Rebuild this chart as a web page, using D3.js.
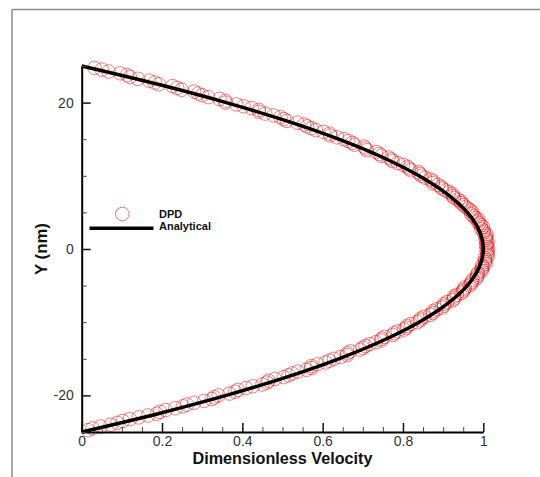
<!DOCTYPE html>
<html>
<head>
<meta charset="utf-8">
<script src="https://cdn.jsdelivr.net/npm/d3@7/dist/d3.min.js"></script>
<style>
  html, body { margin: 0; padding: 0; background: #fff; }
  svg { display: block; font-family: "Liberation Sans", Arial, sans-serif; }
</style>
</head>
<body>
<svg id="chart" width="540" height="477"></svg>
<script>
// ---- data ----
const dpdY = [24.75,24.25,23.75,23.25,22.75,22.25,21.75,21.25,20.75,20.25,19.75,19.25,18.75,18.25,17.75,17.25,16.75,16.25,15.75,15.25,14.75,14.25,13.75,13.25,12.75,12.25,11.75,11.25,10.75,10.25,9.75,9.25,8.75,8.25,7.75,7.25,6.75,6.25,5.75,5.25,4.75,4.25,3.75,3.25,2.75,2.25,1.75,1.25,0.75,0.25,
  -0.25,-0.75,-1.25,-1.75,-2.25,-2.75,-3.25,-3.75,-4.25,-4.75,-5.25,-5.75,-6.25,-6.75,-7.25,-7.75,-8.25,-8.75,-9.25,-9.75,-10.25,-10.75,-11.25,-11.75,-12.25,-12.75,-13.25,-13.75,-14.25,-14.75,-15.25,-15.75,-16.25,-16.75,-17.25,-17.75,-18.25,-18.75,-19.25,-19.75,-20.25,-20.75,-21.25,-21.75,-22.25,-22.75,-23.25,-23.75,-24.25,-24.75,
  24.5,24,23.5,23,22.5,22,21.5,21,20.5,20,19.5,19,18.5,18,17.5,17,16.5,16,15.5,15,14.5,14,13.5,13,12.5,12,11.5,11,10.5,10,9.5,9,8.5,8,7.5,7,6.5,6,5.5,5,4.5,4,3.5,3,2.5,2,1.5,1,0.5,0,
  -0.5,-1,-1.5,-2,-2.5,-3,-3.5,-4,-4.5,-5,-5.5,-6,-6.5,-7,-7.5,-8,-8.5,-9,-9.5,-10,-10.5,-11,-11.5,-12,-12.5,-13,-13.5,-14,-14.5,-15,-15.5,-16,-16.5,-17,-17.5,-18,-18.5,-19,-19.5,-20,-20.5,-21,-21.5,-22,-22.5,-23,-23.5,-24,-24.5];
const dpdU = [0.032,0.067,0.113,0.140,0.182,0.226,0.249,0.290,0.315,0.358,0.385,0.423,0.441,0.478,0.503,0.537,0.561,0.583,0.618,0.636,0.664,0.679,0.707,0.733,0.746,0.771,0.787,0.811,0.820,0.842,0.855,0.875,0.887,0.897,0.915,0.924,0.937,0.945,0.956,0.968,0.970,0.981,0.986,0.994,0.995,1.001,1.007,1.006,1.009,1.009,
  1.008,1.010,1.004,1.004,0.997,0.996,0.987,0.985,0.973,0.970,0.954,0.950,0.934,0.928,0.910,0.902,0.883,0.875,0.853,0.843,0.820,0.809,0.787,0.775,0.747,0.732,0.707,0.693,0.661,0.645,0.617,0.587,0.572,0.538,0.515,0.481,0.462,0.426,0.389,0.368,0.330,0.305,0.262,0.233,0.195,0.165,0.120,0.089,0.047,0.016,
  0.050,0.096,0.120,0.168,0.192,0.238,0.280,0.300,0.343,0.358,0.403,0.441,0.457,0.495,0.511,0.554,0.572,0.602,0.619,0.654,0.674,0.703,0.710,0.741,0.764,0.774,0.800,0.815,0.839,0.846,0.869,0.874,0.895,0.906,0.923,0.927,0.944,0.951,0.963,0.973,0.976,0.988,0.990,0.999,1.001,1.008,1.006,1.011,1.007,1.012,
  1.010,1.011,1.005,1.006,0.998,0.996,0.985,0.983,0.971,0.966,0.952,0.946,0.927,0.924,0.902,0.897,0.874,0.868,0.844,0.836,0.810,0.803,0.778,0.754,0.746,0.717,0.700,0.669,0.661,0.628,0.607,0.572,0.560,0.524,0.503,0.465,0.450,0.409,0.382,0.341,0.324,0.280,0.252,0.209,0.187,0.142,0.102,0.072,0.027];
const anaY = [25,22.5,20,17.5,15,12.5,10,7.5,5,2.5,0,-2.5,-5,-7.5,-10,-12.5,-15,-17.5,-20,-22.5,-25];
const anaU = [0,0.19,0.36,0.51,0.64,0.75,0.84,0.91,0.96,0.99,1,0.99,0.96,0.91,0.84,0.75,0.64,0.51,0.36,0.19,0];
const xTicks = [0,0.2,0.4,0.6,0.8,1];
const xTickLabels = ["0","0.2","0.4","0.6","0.8","1"];
const yTicks = [-20,0,20];
const yTickLabels = ["-20","0","20"];
const seriesNames = ["DPD","Analytical"];
const xTitle = "Dimensionless Velocity";
const yTitle = "Y (nm)";

// ---- layout ----
const svg = d3.select("#chart");
const pLeft = 81.7, pRight = 483.3, pTop = 66, pBottom = 432;
const x = d3.scaleLinear().domain([0,1]).range([pLeft,pRight]);
const y = d3.scaleLinear().domain([-25,25]).range([pBottom,pTop]);

// frame
svg.append("line").attr("x1",12).attr("x2",540).attr("y1",9.5).attr("y2",9.5).attr("stroke","#8c8c8c").attr("stroke-width",1.5);
svg.append("line").attr("x1",12).attr("x2",12).attr("y1",9.5).attr("y2",477).attr("stroke","#8c8c8c").attr("stroke-width",1.5);

// DPD circles
const pts = dpdY.map((v,i)=>({y:v,u:dpdU[i]}));
svg.append("g").selectAll("circle").data(pts).join("circle")
  .attr("cx",d=>x(d.u)).attr("cy",d=>y(d.y)).attr("r",6.8)
  .attr("fill","none").attr("stroke","#e60000").attr("stroke-opacity",0.5).attr("stroke-width",1);

// analytical
const ana = anaY.map((v,i)=>({y:v,u:anaU[i]}));
svg.append("path").datum(ana)
  .attr("d", d3.line().x(d=>x(d.u)).y(d=>y(d.y)).curve(d3.curveCatmullRom.alpha(0.5)))
  .attr("fill","none").attr("stroke","#000").attr("stroke-width",3.5);

// axes
const xMinor = d3.range(0,1.0001,0.05).filter(v=>!xTicks.some(t=>Math.abs(t-v)<1e-6));
const yMinor = d3.range(-25,25.0001,5).filter(v=>!yTicks.some(t=>Math.abs(t-v)<1e-6));

const xAxis = svg.append("g").attr("transform",`translate(0,${pBottom})`)
  .call(d3.axisBottom(x).tickValues(xTicks).tickFormat((d,i)=>xTickLabels[i]).tickSizeInner(-9).tickSizeOuter(0).tickPadding(4));
xAxis.select(".domain").attr("stroke","#000").attr("stroke-width",2);
xAxis.selectAll(".tick line").attr("stroke","#111").attr("stroke-width",1.5);
xAxis.selectAll(".tick text").attr("font-size",14).attr("fill","#333").attr("dy","0.71em").attr("font-family","Liberation Sans, Arial, sans-serif");
const xm = svg.append("g").attr("transform",`translate(0,${pBottom})`)
  .call(d3.axisBottom(x).tickValues(xMinor).tickFormat("").tickSizeInner(-5).tickSizeOuter(0));
xm.select(".domain").remove();
xm.selectAll(".tick line").attr("stroke","#444").attr("stroke-width",1);

const yAxis = svg.append("g").attr("transform",`translate(${pLeft},0)`)
  .call(d3.axisLeft(y).tickValues(yTicks).tickFormat((d,i)=>yTickLabels[i]).tickSizeInner(-9).tickSizeOuter(0).tickPadding(8));
yAxis.select(".domain").attr("stroke","#000").attr("stroke-width",2);
yAxis.selectAll(".tick line").attr("stroke","#111").attr("stroke-width",1.5);
yAxis.selectAll(".tick text").attr("font-size",14).attr("fill","#333").attr("font-family","Liberation Sans, Arial, sans-serif");
const ym = svg.append("g").attr("transform",`translate(${pLeft},0)`)
  .call(d3.axisLeft(y).tickValues(yMinor).tickFormat("").tickSizeInner(-5).tickSizeOuter(0));
ym.select(".domain").remove();
ym.selectAll(".tick line").attr("stroke","#444").attr("stroke-width",1);

// titles
svg.append("text").attr("x",(pLeft+pRight)/2).attr("y",464).attr("text-anchor","middle")
  .attr("font-size",16.2).attr("font-weight","bold").attr("fill","#111").text(xTitle);
svg.append("text").attr("transform",`translate(47,${y(0)}) rotate(-90)`).attr("text-anchor","middle")
  .attr("font-size",16.8).attr("font-weight","bold").attr("fill","#111").text(yTitle);

// legend
svg.append("circle").attr("cx",122.3).attr("cy",214).attr("r",6.8)
  .attr("fill","none").attr("stroke","#e60000").attr("stroke-opacity",0.55).attr("stroke-width",1);
svg.append("line").attr("x1",89.5).attr("x2",153.5).attr("y1",228.3).attr("y2",228.3).attr("stroke","#000").attr("stroke-width",3.5);
svg.append("text").attr("x",159).attr("y",217.5).attr("font-size",11).attr("font-weight","bold").attr("fill","#111").text(seriesNames[0]);
svg.append("text").attr("x",159).attr("y",229.5).attr("font-size",11).attr("font-weight","bold").attr("fill","#111").text(seriesNames[1]);
</script>
</body>
</html>
